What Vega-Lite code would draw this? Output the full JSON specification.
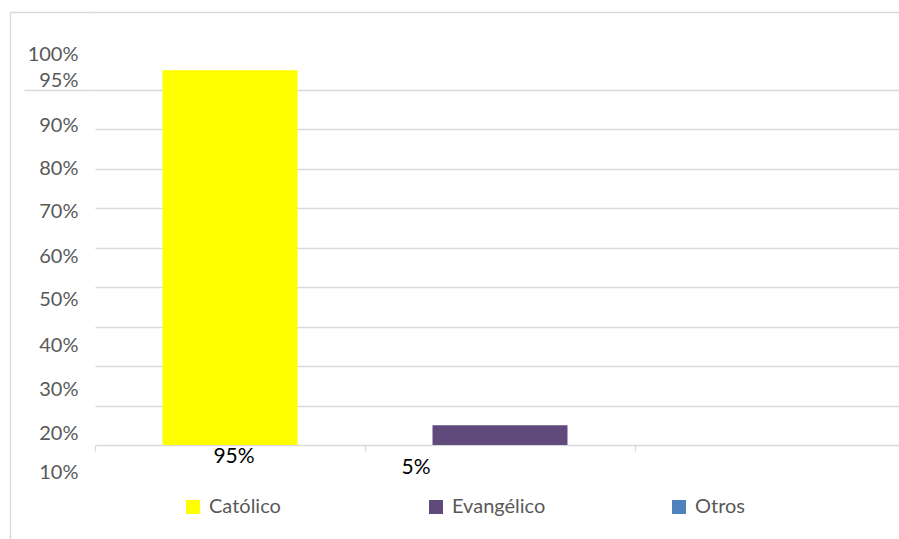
{
  "$schema": "https://vega.github.io/schema/vega-lite/v6.json",
  "autosize": {"type": "none"},
  "padding": {"left": 95, "top": 12, "right": 0, "bottom": 0},
  "width": 810,
  "height": 527,
  "background": "white",
  "config": {"view": {"stroke": null}, "font": "Lato"},
  "data": {"values": [
    {"religion": "Católico", "pct": 95, "label": "95%"},
    {"religion": "Evangélico", "pct": 5, "label": "5%"},
    {"religion": "Otros", "pct": 0, "label": ""}
  ]},
  "resolve": {"axis": {"y": "independent"}},
  "layer": [
    {
      "mark": {"type": "bar", "width": {"band": 0.5}},
      "encoding": {
        "x": {"field": "religion", "type": "nominal", "sort": ["Católico", "Evangélico", "Otros"],
          "scale": {"paddingInner": 0, "paddingOuter": 0},
          "axis": {"title": null, "labels": false, "ticks": true, "tickBand": "extent", "tickSize": 6, "tickColor": "#d9d9d9", "tickWidth": 1.3, "domain": true, "domainColor": "#d9d9d9", "offset": -94, "grid": false}},
        "y": {"field": "pct", "type": "quantitative",
          "scale": {"domain": [-23.83, 109.79], "nice": false, "zero": false},
          "axis": {"title": null, "orient": "left", "values": [0, 10, 20, 30, 40, 50, 60, 70, 80, 90, 109.79], "grid": true, "gridColor": "#d9d9d9", "gridWidth": 1.3, "labels": false, "domain": false,
            "ticks": true, "tickSize": 71, "tickColor": {"condition": {"test": "datum.value == 90", "value": "#d9d9d9"}, "value": "transparent"}, "tickWidth": 1.3}},
        "color": {"field": "religion", "type": "nominal",
          "scale": {"domain": ["Católico", "Evangélico", "Otros"], "range": ["#FFFF00", "#604A7B", "#4F81BD"]},
          "legend": {"orient": "none", "legendX": 88, "legendY": 485, "direction": "horizontal", "title": null, "gridAlign": "all", "columnPadding": 123, "symbolType": "square", "symbolSize": 196, "symbolStrokeWidth": 0, "labelFontSize": 20, "labelFont": "Lato", "labelColor": "#595959", "labelOffset": 6}}
      }
    },
    {
      "transform": [{"filter": "datum.religion == 'Católico'"}],
      "mark": {"type": "text", "fontSize": 21, "font": "Lato", "color": "#000000", "dy": 12, "dx": 4},
      "encoding": {
        "x": {"field": "religion", "type": "nominal", "sort": ["Católico", "Evangélico", "Otros"]},
        "y": {"datum": 0, "type": "quantitative",
          "axis": {"title": null, "orient": "left", "offset": 85, "values": [109.79], "grid": false, "labels": false, "domain": true, "domainColor": "#d9d9d9", "domainWidth": 1.3, "ticks": true, "tickSize": -85, "tickColor": "#d9d9d9", "tickWidth": 1.3}},
        "text": {"field": "label"}
      }
    },
    {
      "transform": [{"filter": "datum.religion == 'Evangélico'"}],
      "mark": {"type": "text", "fontSize": 21, "font": "Lato", "color": "#000000", "dy": 23, "dx": -84},
      "encoding": {
        "x": {"field": "religion", "type": "nominal", "sort": ["Católico", "Evangélico", "Otros"]},
        "y": {"datum": 0, "type": "quantitative",
          "axis": {"title": null, "orient": "left", "offset": 0, "values": [98.9, 92.5, 81.1, 70.2, 59.1, 47.9, 36.8, 25.2, 14.0, 2.9, -7.0],
            "labelExpr": "datum.value > 95 ? '100%' : datum.value > 85 ? '95%' : datum.value > 75 ? '90%' : datum.value > 65 ? '80%' : datum.value > 55 ? '70%' : datum.value > 45 ? '60%' : datum.value > 30 ? '50%' : datum.value > 20 ? '40%' : datum.value > 10 ? '30%' : datum.value > 0 ? '20%' : '10%'",
            "grid": false, "domain": false, "ticks": false, "tickSize": 0, "labelPadding": 17, "labelFontSize": 20, "labelFont": "Lato", "labelColor": "#595959", "labelBaseline": "middle"}},
        "text": {"field": "label"}
      }
    }
  ]
}
